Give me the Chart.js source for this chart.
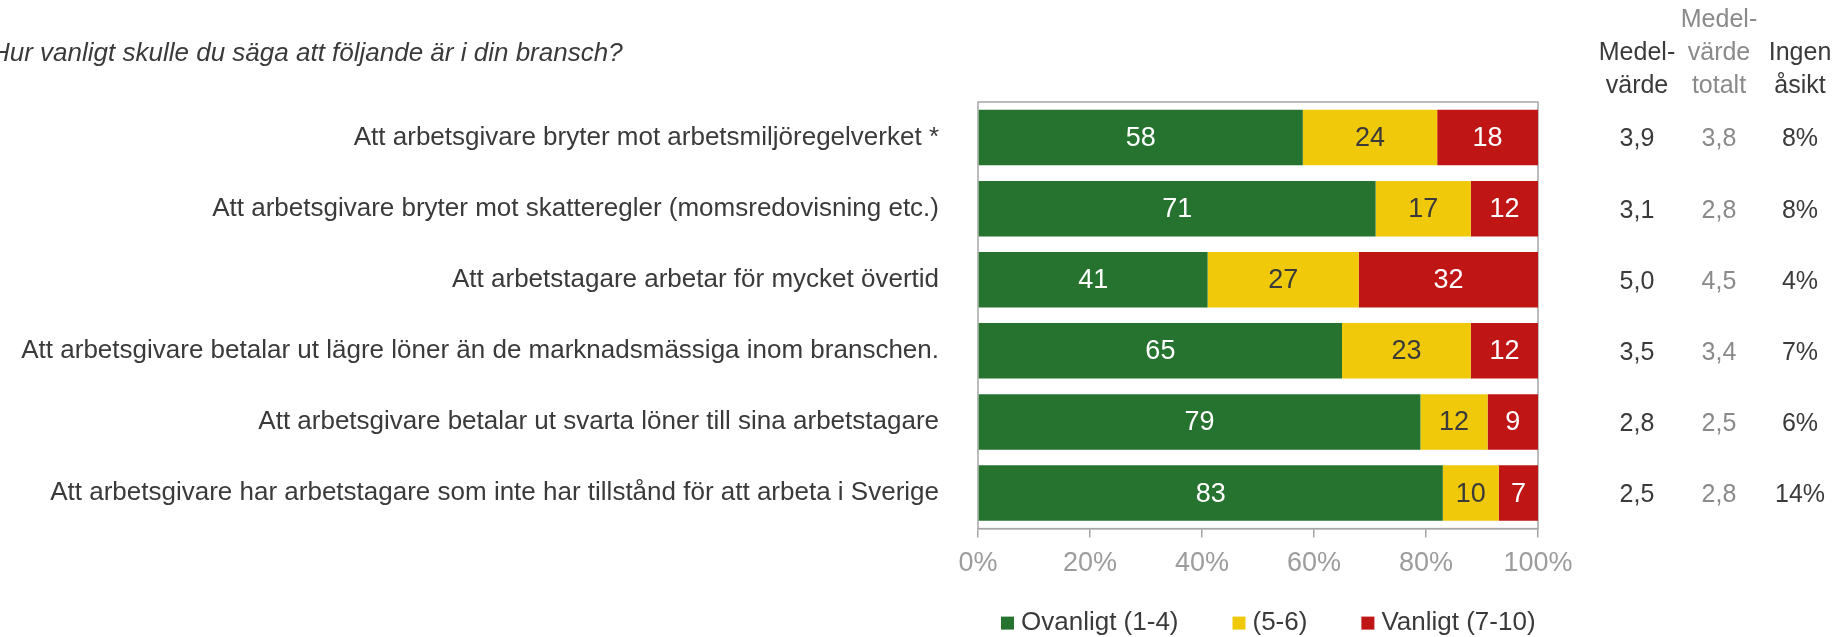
<!DOCTYPE html>
<html lang="sv">
<head>
<meta charset="utf-8">
<title>Hur vanligt skulle du säga att följande är i din bransch?</title>
<script src="https://cdn.jsdelivr.net/npm/chart.js@4/dist/chart.umd.min.js"></script>
<style>
  html, body { margin: 0; padding: 0; background: #fff; }
  #wrap { width: 1842px; height: 637px; }
</style>
</head>
<body>
<div id="wrap"><canvas id="chart" width="1842" height="637"></canvas></div>
<script>
// Data
const questionTitle = 'Hur vanligt skulle du säga att följande är i din bransch?';
const categories = [
    'Att arbetsgivare bryter mot arbetsmiljöregelverket *',
    'Att arbetsgivare bryter mot skatteregler (momsredovisning etc.)',
    'Att arbetstagare arbetar för mycket övertid',
    'Att arbetsgivare betalar ut lägre löner än de marknadsmässiga inom branschen.',
    'Att arbetsgivare betalar ut svarta löner till sina arbetstagare',
    'Att arbetsgivare har arbetstagare som inte har tillstånd för att arbeta i Sverige'
];
const ovanligt = [58, 71, 41, 65, 79, 83];
const mellan = [24, 17, 27, 23, 12, 10];
const vanligt = [18, 12, 32, 12, 9, 7];
const seriesNames = ['Ovanligt (1-4)', '(5-6)', 'Vanligt (7-10)'];

const medelvarde = ['3,9', '3,1', '5,0', '3,5', '2,8', '2,5'];
const medelvardeTotalt = ['3,8', '2,8', '4,5', '3,4', '2,5', '2,8'];
const ingenAsikt = ['8%', '8%', '4%', '7%', '6%', '14%'];

const xTicks = [0, 20, 40, 60, 80, 100];

const FONT = "'Liberation Sans', Arial, sans-serif";
const DARK = '#3a3a3a';
const GREEN = '#267330';
const YELLOW = '#efc90a';
const RED = '#c01515';

// values inside the bars
const barLabels = {
    id: 'barLabels',
    afterDatasetsDraw(chart) {
        const ctx = chart.ctx;
        ctx.save();
        ctx.font = '27px ' + FONT;
        ctx.textAlign = 'center';
        ctx.textBaseline = 'middle';
        chart.data.datasets.forEach((ds, di) => {
            const meta = chart.getDatasetMeta(di);
            meta.data.forEach((bar, i) => {
                const p = bar.getCenterPoint();
                ctx.fillStyle = di === 1 ? DARK : '#ffffff';
                ctx.fillText(String(ds.data[i]), p.x, p.y + 1);
            });
        });
        ctx.restore();
    }
};

// grey box round the plot area
const plotBox = {
    id: 'plotBox',
    beforeDatasetsDraw(chart) {
        const { ctx, chartArea: a } = chart;
        ctx.save();
        ctx.strokeStyle = '#a6a6a6';
        ctx.lineWidth = 1.5;
        ctx.strokeRect(a.left, a.top, a.right - a.left, a.bottom - a.top);
        ctx.restore();
    }
};

// title, side columns and legend
const extras = {
    id: 'extras',
    afterDraw(chart) {
        const { ctx, chartArea: a } = chart;
        const yScale = chart.scales.y;
        ctx.save();
        ctx.textBaseline = 'middle';

        ctx.font = 'italic 26px ' + FONT;
        ctx.fillStyle = DARK;
        ctx.textAlign = 'left';
        ctx.fillText(questionTitle, -9, 54);

        ctx.font = '25px ' + FONT;
        ctx.textAlign = 'center';
        const cols = [
            { dx: 99, color: DARK, head: ['', 'Medel-', 'värde'], vals: medelvarde },
            { dx: 181, color: '#8a8a8a', head: ['Medel-', 'värde', 'totalt'], vals: medelvardeTotalt },
            { dx: 262, color: DARK, head: ['', 'Ingen', 'åsikt'], vals: ingenAsikt }
        ];
        cols.forEach(c => {
            ctx.fillStyle = c.color;
            const x = a.right + c.dx;
            c.head.forEach((t, r) => { if (t) ctx.fillText(t, x, 20 + r * 33); });
            c.vals.forEach((v, i) => ctx.fillText(v, x, yScale.getPixelForValue(i) + 2));
        });

        // legend
        const colors = [GREEN, YELLOW, RED];
        ctx.font = '26px ' + FONT;
        ctx.textAlign = 'left';
        let x = a.left + 23;
        const y = a.bottom + 94;
        seriesNames.forEach((name, i) => {
            ctx.fillStyle = colors[i];
            ctx.fillRect(x, y - 6, 13, 13);
            ctx.fillStyle = DARK;
            ctx.fillText(name, x + 20, y);
            x += 20 + ctx.measureText(name).width + 54;
        });
        ctx.restore();
    }
};

new Chart(document.getElementById('chart'), {
    type: 'bar',
    data: {
        labels: categories,
        datasets: [
            { label: seriesNames[0], data: ovanligt, backgroundColor: GREEN },
            { label: seriesNames[1], data: mellan, backgroundColor: YELLOW },
            { label: seriesNames[2], data: vanligt, backgroundColor: RED }
        ]
    },
    options: {
        indexAxis: 'y',
        responsive: false,
        animation: false,
        devicePixelRatio: 1,
        layout: { padding: { top: 102, right: 304, bottom: 47, left: 0 } },
        datasets: { bar: { barPercentage: 0.78, categoryPercentage: 1 } },
        plugins: {
            legend: { display: false },
            tooltip: { enabled: false }
        },
        scales: {
            x: {
                stacked: true,
                min: 0,
                max: 100,
                afterBuildTicks: scale => { scale.ticks = xTicks.map(v => ({ value: v })); },
                grid: { drawOnChartArea: false, drawTicks: true, tickLength: 9, color: '#a6a6a6', lineWidth: 1.5 },
                border: { display: true, color: '#a6a6a6', width: 1.5 },
                ticks: {
                    padding: 10,
                    color: '#9c9c9c',
                    font: { family: FONT, size: 27 },
                    callback: v => v + '%'
                }
            },
            y: {
                stacked: true,
                afterFit: scale => { scale.width = 978; },
                grid: { display: false },
                border: { display: false },
                ticks: {
                    padding: 31,
                    color: DARK,
                    font: { family: FONT, size: 26 }
                }
            }
        }
    },
    plugins: [plotBox, barLabels, extras]
});
</script>
</body>
</html>
